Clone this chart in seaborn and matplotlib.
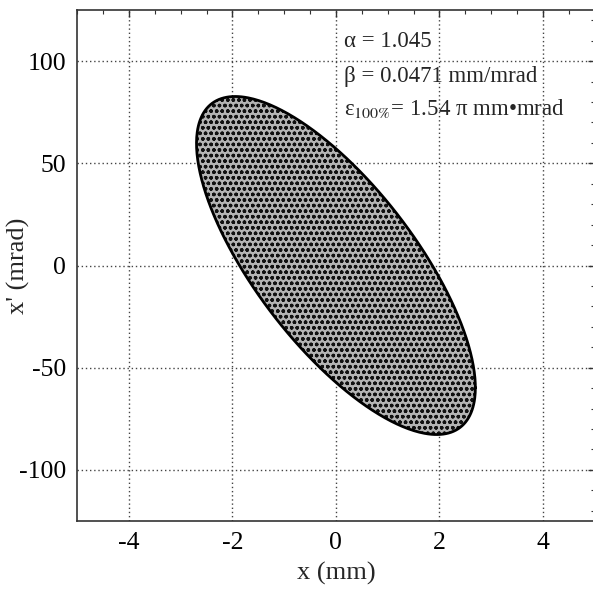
import numpy as np
import pandas as pd
import matplotlib
matplotlib.use("Agg")
import matplotlib.pyplot as plt
from matplotlib.ticker import MultipleLocator
import seaborn as sns

# ---- data ----
alpha = 1.045            # Twiss alpha (label)
beta = 0.0471            # Twiss beta, mm/mrad (label)
eps_label = 1.54         # emittance printed in label (pi mm*mrad)
eps_drawn = 154.0        # emittance of drawn boundary in plot units (read from ellipse extent)
x_ticks = [-4, -2, 0, 2, 4]
y_ticks = [-100, -50, 0, 50, 100]
x_lim = [-5, 5]
y_lim = [-125, 125]

# boundary of the Twiss ellipse  gamma x^2 + 2 alpha x x' + beta x'^2 = eps
t = np.linspace(0, 2 * np.pi, 400)
bx = np.sqrt(eps_drawn * beta) * np.cos(t)
by = -np.sqrt(eps_drawn / beta) * (alpha * np.cos(t) + np.sin(t))
df = pd.DataFrame({"x": bx, "xp": by})

sns.set_style("white")
plt.rcParams["font.family"] = ["Liberation Serif", "DejaVu Serif"]
plt.rcParams["mathtext.fontset"] = "stix"
plt.rcParams["hatch.linewidth"] = 1.0

fig = plt.figure(figsize=(5.93, 5.92), dpi=100)
ax = fig.add_axes([0.130, 0.120, 0.873, 0.863])

ax.fill(df["x"], df["xp"], facecolor="#b4b4b4", edgecolor="#111111", hatch="ooo", linewidth=0, zorder=2)
sns.lineplot(data=df, x="x", y="xp", sort=False, estimator=None, color="black", linewidth=2, ax=ax, zorder=3)

ax.set_xlim(*x_lim)
ax.set_ylim(*y_lim)
ax.set_xticks(x_ticks)
ax.set_yticks(y_ticks)
ax.set_xticklabels([str(v) for v in x_ticks])
ax.set_yticklabels([str(v) for v in y_ticks])
ax.xaxis.set_minor_locator(MultipleLocator(0.5))
ax.yaxis.set_minor_locator(MultipleLocator(10))
ax.tick_params(which="both", direction="in", top=True, right=True, colors="#333333",
               labelcolor="black", labelsize=18.5)
ax.tick_params(which="major", length=5, width=1, pad=8)
ax.tick_params(which="minor", length=3, width=0.8)
ax.grid(True, which="major", linestyle=(0, (1, 2)), color="#444444", linewidth=1.0, zorder=0)
ax.set_axisbelow(True)
for s in ax.spines.values():
    s.set_color("#333333")
    s.set_linewidth(1.2)

ax.set_xlabel("x (mm)", fontsize=19)
ax.set_ylabel("x' (mrad)", fontsize=19)
ax.xaxis.label.set_va("center")
ax.yaxis.label.set_va("center")
ax.xaxis.set_label_coords(0.5, -0.102)
ax.yaxis.set_label_coords(-0.114, 0.5)

ax.text(0.15, 109.5, f"α = {alpha}", fontsize=16.5, va="center", ha="left")
ax.text(0.15, 92.4, f"β = {beta} mm/mrad", fontsize=16.5, va="center", ha="left")
ax.text(0.15, 77.0, f"ε$_{{100\\%}}$= {eps_label} π mm•mrad", fontsize=16.5, va="center", ha="left")

fig.savefig("out.png", dpi=100)
